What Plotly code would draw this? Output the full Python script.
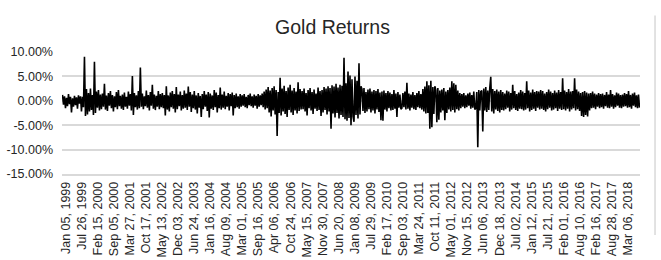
import plotly.graph_objects as go

# Daily gold returns (%) (one value per pixel column, ~9 trading days each)
returns_pct = [
    1.2,-0.8,0.9,-1.5,0.6,-1.1,1.4,-0.7,0.8,-2.4,0.5,-1.2,1.0,-0.9,0.7,-1.6,1.1,-0.6,0.9,-2.2,
    0.8,-1.3,9.0,-3.1,2.4,-2.8,1.6,-2.2,2.5,-1.9,1.2,-2.9,8.0,-2.5,1.9,-1.4,2.2,-2.0,1.3,-1.7,
    1.5,-1.2,3.5,-1.8,1.1,-2.1,1.6,-1.0,2.0,-1.5,1.2,-2.2,0.9,-1.3,1.8,-1.7,2.2,-1.1,1.0,-1.6,
    1.3,-1.9,1.7,-1.2,0.8,-1.6,1.9,-1.0,1.4,-2.0,5.1,-2.9,1.6,-1.3,1.1,-1.8,2.0,-1.5,6.8,-1.2,
    1.5,-1.7,0.9,-1.1,2.1,-1.4,1.2,-2.0,1.8,-1.0,3.3,-1.6,1.3,-1.9,1.0,-1.2,2.0,-1.7,1.4,-1.3,
    1.6,-1.5,1.2,-3.0,3.0,-1.8,1.1,-2.2,1.7,-1.3,2.0,-1.6,1.4,-2.4,2.8,-1.7,1.3,-1.1,1.9,-2.0,
    1.2,-1.6,2.1,-1.4,1.5,-1.9,2.9,-1.2,1.8,-2.3,1.3,-1.5,2.0,-1.8,1.1,-2.6,1.6,-1.4,1.0,-3.3,
    1.4,-1.7,2.0,-1.2,1.3,-2.1,1.8,-3.4,1.5,-1.6,1.1,-1.9,2.2,-1.3,1.7,-2.4,1.2,-1.5,2.7,-1.8,
    1.3,-1.4,1.9,-1.7,1.0,-1.2,1.6,-2.0,1.4,-1.1,1.7,-3.0,1.2,-1.5,1.5,-1.3,0.9,-1.6,1.4,-1.2,
    1.1,-1.0,1.4,-1.3,0.8,-1.5,1.2,-0.9,1.5,-1.1,0.9,-1.4,1.3,-1.0,1.0,-1.6,1.4,-1.2,1.1,-0.9,
    1.5,-1.3,1.9,-1.8,2.3,-1.5,2.8,-2.4,2.1,-3.2,2.6,-2.0,3.0,-2.8,2.2,-7.2,1.8,-2.5,4.7,-3.0,
    2.5,-2.2,3.1,-2.7,2.0,-3.3,2.7,-1.9,3.3,-2.4,2.1,-2.9,2.6,-2.0,1.9,-2.6,3.8,-2.1,2.4,-1.8,
    2.0,-1.7,2.5,-2.2,1.6,-3.0,2.2,-1.5,2.6,-2.0,1.8,-2.7,2.3,-1.6,1.5,-2.1,2.7,-1.9,2.0,-3.1,
    2.2,-2.4,2.8,-1.9,2.5,-2.8,3.0,-2.2,2.6,-5.7,3.2,-2.6,2.9,-3.4,3.5,-2.5,2.7,-3.6,3.3,-2.9,
    3.1,-3.3,8.8,-3.8,3.6,-4.1,6.0,-3.5,5.2,-5.0,4.4,-3.2,-4.3,5.0,-2.9,4.1,-3.6,7.7,-2.8,3.0,
    2.4,-2.1,2.6,-2.5,1.8,-2.2,2.3,-1.7,2.5,-2.4,1.9,-2.0,2.2,-2.6,2.0,-1.8,2.4,-2.3,1.7,-4.0,
    1.9,-4.1,2.1,-1.8,1.6,-2.2,2.0,-1.5,1.7,-2.0,1.4,-1.9,2.2,-1.6,1.5,-3.3,1.8,-1.4,1.3,-1.7,
    -1.5,1.6,-1.3,1.9,-1.8,3.7,-1.6,1.5,-2.0,1.3,-1.4,1.8,-1.7,1.2,-1.9,1.6,-1.3,2.0,-1.5,1.4,
    -1.8,2.4,-2.2,2.9,-2.6,4.0,-2.5,3.2,-5.7,4.1,-5.4,2.8,-2.7,3.0,2.2,-4.4,2.6,-3.9,2.1,-2.4,
    2.3,-2.0,2.6,-4.0,1.9,-2.5,2.2,-1.8,2.7,-2.2,4.0,-1.9,3.6,-2.4,3.3,-1.7,2.1,-2.0,1.6,-1.5,
    1.4,-1.2,1.6,-1.5,1.1,-1.3,1.5,-1.0,1.7,-1.6,1.2,-1.4,1.9,-1.8,-1.5,1.8,-9.5,2.2,-2.0,1.9,
    2.1,-6.3,2.5,-2.0,2.8,-2.3,2.1,-1.9,2.6,4.9,-2.2,2.4,-2.6,2.0,-1.8,2.3,-2.1,1.9,-2.4,2.2,
    -1.9,1.8,-2.0,1.5,-1.7,2.1,-1.4,1.9,-2.2,1.6,-1.8,3.3,-1.5,2.0,-1.9,1.4,-2.1,1.7,-1.6,2.2,
    -1.7,1.9,-2.0,1.6,-1.8,4.0,-1.5,2.1,-2.2,1.7,-1.9,2.3,-1.6,1.8,-2.1,2.0,-1.4,1.9,-1.8,2.2,
    -1.6,2.0,-1.9,1.5,-2.2,1.8,-1.7,2.3,-1.4,1.9,-2.0,1.6,-1.8,2.1,-1.5,1.7,-2.1,2.2,-1.6,1.8,
    -1.9,4.6,-1.7,2.1,-2.0,1.8,-1.6,2.4,-2.2,1.9,-1.8,2.0,-1.5,4.6,-2.0,2.3,-1.7,1.9,-2.1,1.6,
    -3.1,1.8,-3.3,2.0,-2.9,1.7,-3.2,1.5,-2.0,1.6,-1.5,1.9,-1.4,1.5,-1.7,1.3,-1.2,1.6,-1.5,1.4,
    -1.3,1.5,-1.6,1.2,-1.1,1.8,-1.4,1.3,-1.5,2.2,-1.2,1.4,-1.6,1.1,-1.3,1.7,-1.0,1.5,-1.4,1.2,
    -1.5,1.3,-1.2,1.6,-1.1,1.4,-1.4,2.0,-1.3,1.2,-1.6,1.5,-1.0,1.7,-1.3,1.1,-1.5,1.3,-1.4,
]

date_labels = [
    "Jan 05, 1999", "Jul 26, 1999", "Feb 15, 2000", "Sep 05, 2000", "Mar 27, 2001",
    "Oct 17, 2001", "May 13, 2002", "Dec 03, 2002", "Jun 24, 2003", "Jan 16, 2004",
    "Aug 09, 2004", "Mar 01, 2005", "Sep 16, 2005", "Apr 06, 2006", "Oct 24, 2006",
    "May 15, 2007", "Nov 30, 2007", "Jun 20, 2008", "Jan 08, 2009", "Jul 29, 2009",
    "Feb 17, 2010", "Sep 03, 2010", "Mar 24, 2011", "Oct 11, 2011", "May 01, 2012",
    "Nov 15, 2012", "Jun 06, 2013", "Dec 18, 2013", "Jul 02, 2014", "Jan 12, 2015",
    "Jul 21, 2015", "Feb 01, 2016", "Aug 10, 2016", "Feb 16, 2017", "Aug 28, 2017",
    "Mar 06, 2018",
]

y_ticks = [-15, -10, -5, 0, 5, 10]
y_tick_text = ["-15.00%", "-10.00%", "-5.00%", "0.00%", "5.00%", "10.00%"]

n = len(returns_pct)
x_idx = list(range(n))
label_step = 16.1
tick_pos = [3 + i * label_step for i in range(len(date_labels))]

fig = go.Figure()
fig.add_trace(go.Scatter(
    x=x_idx, y=returns_pct, mode="lines",
    line=dict(color="#000000", width=1.6),
    hoverinfo="skip", showlegend=False,
))

fig.update_layout(
    width=661, height=260,
    margin=dict(l=62, r=21, t=52, b=86),
    paper_bgcolor="white", plot_bgcolor="white",
    font=dict(family="Liberation Sans, Arial, sans-serif", color="#404040"),
    title=dict(text="Gold Returns", x=0.503, xanchor="center", y=0.895, yanchor="middle",
               font=dict(size=19.5, color="#262626")),
)
fig.update_xaxes(
    range=[-0.5, n - 0.5],
    tickmode="array", tickvals=tick_pos, ticktext=date_labels,
    tickangle=-90, tickfont=dict(size=12.5, color="#262626"),
    showgrid=False, zeroline=False, automargin=False,
    showline=True, linecolor="#d9d9d9", linewidth=1.5,
    ticks="", ticklabelstandoff=1,
)
fig.update_yaxes(
    range=[-15, 10], automargin=False,
    tickmode="array", tickvals=y_ticks, ticktext=y_tick_text,
    tickfont=dict(size=12.5, color="#262626"),
    showgrid=True, gridcolor="#d9d9d9", gridwidth=1.5,
    zeroline=False, showline=False, ticks="", ticklabelstandoff=8,
)
fig.add_shape(type="line", xref="paper", yref="paper",
              x0=1.026, x1=1.026, y0=-0.5, y1=1.3,
              line=dict(color="#d9d9d9", width=1.5))

fig.write_html("out.html")
